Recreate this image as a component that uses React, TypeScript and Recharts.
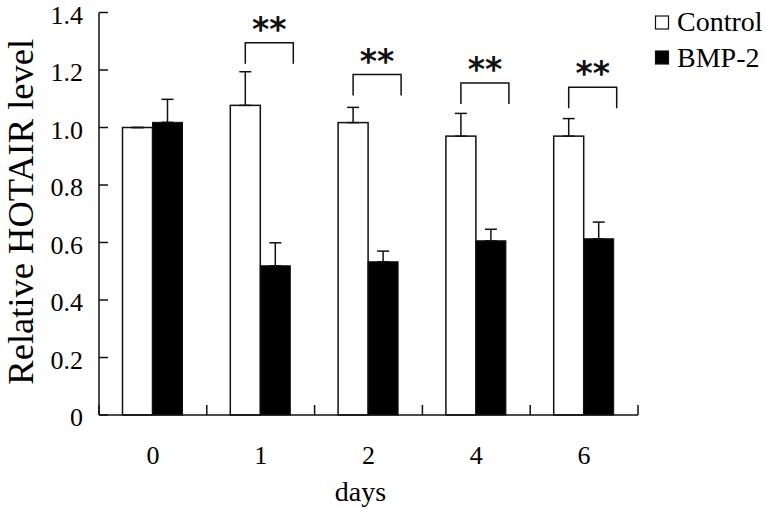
import React from "react";
import { Bar, BarChart, ErrorBar, Legend, XAxis, YAxis } from "recharts";

// Relative HOTAIR level, control vs BMP-2, by day
const days = ["0", "1", "2", "4", "6"];
const control = [1.0, 1.077, 1.017, 0.97, 0.97];
const controlErr = [0, 0.117, 0.053, 0.079, 0.061];
const bmp2 = [1.018, 0.519, 0.533, 0.606, 0.613];
const bmp2Err = [0.08, 0.08, 0.037, 0.04, 0.058];
// top of the significance bracket (data units), null where there is none
const bracketTop = [null, 1.295, 1.184, 1.155, 1.14];
const marks = ["", "**", "**", "**", "**"];
const yTicks = [0, 0.2, 0.4, 0.6, 0.8, 1.0, 1.2, 1.4];

const data = days.map((d, i) => ({
  day: d,
  control: control[i],
  controlErr: [0, controlErr[i]],
  bmp2: bmp2[i],
  bmp2Err: [0, bmp2Err[i]],
  bracket: bracketTop[i],
  mark: marks[i],
}));

const SERIF = "'Times New Roman', 'Liberation Serif', serif";
const INK = "#111";

function ControlBar(props: any) {
  const { x, y, width, height, payload } = props;
  const base = y + height;
  let bracket = null;
  if (payload.bracket != null && height > 0) {
    const by = base - (payload.bracket / payload.control) * height;
    const lx = x + width / 2;
    const rx = lx + width * 1.6;
    bracket = (
      <g>
        <path
          d={`M${lx},${by + 21} V${by} H${rx} V${by + 21}`}
          fill="none"
          stroke={INK}
          strokeWidth={1.5}
        />
        <text
          x={(lx + rx) / 2}
          y={by - 2}
          textAnchor="middle"
          fontFamily="'DejaVu Sans', sans-serif"
          fontWeight="bold"
          fontSize={33}
          fill={INK}
        >
          {payload.mark}
        </text>
      </g>
    );
  }
  return (
    <g>
      <rect x={x} y={y} width={width} height={height} fill="#fff" stroke={INK} strokeWidth={1.5} />
      {bracket}
    </g>
  );
}

function BmpBar(props: any) {
  const { x, y, width, height } = props;
  return <rect x={x} y={y} width={width} height={height} fill="#000" stroke={INK} strokeWidth={1} />;
}

function DayTick(props: any) {
  const { x, y, payload, index, visibleTicksCount } = props;
  const off = payload.offset ?? 0;
  const isLast = index === visibleTicksCount - 1;
  return (
    <g>
      <line x1={x - off} y1={y} x2={x - off} y2={y - 10} stroke={INK} strokeWidth={1.5} />
      {isLast && <line x1={x + off} y1={y} x2={x + off} y2={y - 10} stroke={INK} strokeWidth={1.5} />}
      <text x={x} y={y + 49} textAnchor="middle" fontFamily={SERIF} fontSize={26} fill="#000">
        {payload.value}
      </text>
    </g>
  );
}

function LevelTick(props: any) {
  const { x, y, payload } = props;
  const v = payload.value as number;
  return (
    <g>
      <line x1={x} y1={y} x2={x + 9} y2={y} stroke={INK} strokeWidth={1.5} />
      <text x={x - 16} y={y + 11} textAnchor="end" fontFamily={SERIF} fontSize={26} fill="#000">
        {v === 0 ? "0" : v.toFixed(1)}
      </text>
    </g>
  );
}

function LegendBox() {
  const items = [
    { name: "Control", fill: "#fff" },
    { name: "BMP-2", fill: "#000" },
  ];
  return (
    <svg width={114} height={80}>
      {items.map((it, i) => (
        <g key={it.name}>
          <rect x={4.5} y={16 + i * 35} width={13} height={13} fill={it.fill} stroke={INK} strokeWidth={1.2} />
          <text x={26} y={31 + i * 36} fontFamily={SERIF} fontSize={28} fill="#000">
            {it.name}
          </text>
        </g>
      ))}
    </svg>
  );
}

export default function App() {
  return (
    <div style={{ position: "absolute", left: 0, top: 0, width: 766, height: 509, background: "#fff" }}>
      <BarChart
        width={766}
        height={509}
        data={data}
        margin={{ top: 12.5, right: 128, bottom: 0, left: 0 }}
        barGap={0}
        barCategoryGap="21.8%"
      >
        <XAxis
          dataKey="day"
          height={94}
          tickLine={false}
          tickSize={0}
          tickMargin={0}
          axisLine={{ stroke: INK, strokeWidth: 1.5 }}
          tick={<DayTick />}
          interval={0}
          label={{
            content: (p: any) => {
              const vb = p.viewBox;
              return (
                <text x={vb.x + vb.width / 2 - 8} y={501} textAnchor="middle" fontFamily={SERIF} fontSize={28} fill="#000">
                  days
                </text>
              );
            },
          }}
        />
        <YAxis
          width={99}
          domain={[0, 1.4]}
          ticks={yTicks}
          interval={0}
          tickLine={false}
          tickSize={0}
          tickMargin={0}
          axisLine={{ stroke: INK, strokeWidth: 1.5 }}
          tick={<LevelTick />}
          label={{
            content: (p: any) => {
              const vb = p.viewBox;
              const cy = vb.y + vb.height / 2 - 2;
              return (
                <text
                  x={33}
                  y={cy}
                  transform={`rotate(-90, 33, ${cy})`}
                  textAnchor="middle"
                  fontFamily={SERIF}
                  fontSize={36.5}
                  fill="#000"
                >
                  Relative HOTAIR level
                </text>
              );
            },
          }}
        />
        <Legend
          layout="vertical"
          align="center"
          verticalAlign="middle"
          wrapperStyle={{ left: 651, top: 0, width: 114 }}
          content={() => <LegendBox />}
        />
        <Bar dataKey="control" name="Control" shape={<ControlBar />} isAnimationActive={false}>
          <ErrorBar dataKey="controlErr" width={6} stroke={INK} strokeWidth={1.5} direction="y" />
        </Bar>
        <Bar dataKey="bmp2" name="BMP-2" shape={<BmpBar />} isAnimationActive={false}>
          <ErrorBar dataKey="bmp2Err" width={6} stroke={INK} strokeWidth={1.5} direction="y" />
        </Bar>
      </BarChart>
    </div>
  );
}
